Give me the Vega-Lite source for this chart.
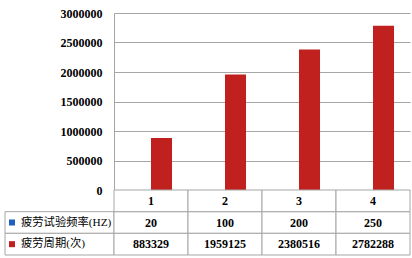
{
  "$schema": "https://vega.github.io/schema/vega-lite/v6.json",
  "padding": {"left": 4, "top": 7, "right": 3, "bottom": 3},
  "config": {"view": {"stroke": null}, "font": "Liberation Serif"},
  "datasets": {
    "bars": [
      {"cat": "1", "series": "疲劳试验频率(HZ)", "value": 20},
      {"cat": "1", "series": "疲劳周期(次)", "value": 883329},
      {"cat": "2", "series": "疲劳试验频率(HZ)", "value": 100},
      {"cat": "2", "series": "疲劳周期(次)", "value": 1959125},
      {"cat": "3", "series": "疲劳试验频率(HZ)", "value": 200},
      {"cat": "3", "series": "疲劳周期(次)", "value": 2380516},
      {"cat": "4", "series": "疲劳试验频率(HZ)", "value": 250},
      {"cat": "4", "series": "疲劳周期(次)", "value": 2782288}
    ],
    "header": [
      {"cat": "1", "series": "#"},
      {"cat": "2", "series": "#"},
      {"cat": "3", "series": "#"},
      {"cat": "4", "series": "#"}
    ],
    "rows": [
      {"series": "疲劳试验频率(HZ)"},
      {"series": "疲劳周期(次)"}
    ]
  },
  "columns": 2,
  "spacing": 0,
  "bounds": "flush",
  "concat": [
    {
      "width": 109,
      "height": 177,
      "data": {"values": [{}]},
      "mark": {"type": "point", "opacity": 0},
      "encoding": {}
    },
    {
      "width": 296,
      "height": 177,
      "data": {"name": "bars"},
      "mark": {"type": "bar"},
      "encoding": {
        "x": {"field": "cat", "type": "nominal", "scale": {"paddingInner": 0.432, "paddingOuter": 0.216}, "axis": null},
        "xOffset": {"field": "series", "type": "nominal", "scale": {"domain": ["疲劳试验频率(HZ)", "疲劳周期(次)"], "paddingInner": 0, "paddingOuter": 0}},
        "y": {
          "field": "value", "type": "quantitative",
          "scale": {"domain": [0, 3000000], "nice": false},
          "axis": {
            "values": [0, 500000, 1000000, 1500000, 2000000, 2500000, 3000000],
            "format": "d", "title": null, "grid": true, "gridColor": "#A6A6A6", "gridOpacity": 1,
            "domainColor": "#A6A6A6", "ticks": false, "tickSize": 0, "labelPadding": 12,
            "labelFont": "Liberation Serif", "labelFontWeight": "bold", "labelFontSize": 12, "labelColor": "#000000"
          }
        },
        "color": {"field": "series", "type": "nominal", "scale": {"domain": ["疲劳试验频率(HZ)", "疲劳周期(次)"], "range": ["#1F5FC0", "#C0201E"]}, "legend": null}
      }
    },
    {
      "width": 109,
      "height": 65,
      "data": {"name": "rows"},
      "encoding": {
        "y": {"field": "series", "type": "nominal", "scale": {"domain": ["#", "疲劳试验频率(HZ)", "疲劳周期(次)"], "paddingInner": 0, "paddingOuter": 0}, "axis": null}
      },
      "layer": [
        {"mark": {"type": "rect", "fill": "#FFFFFF", "stroke": "#A6A6A6", "strokeWidth": 1}},
        {
          "mark": {"type": "point", "shape": "square", "filled": true, "size": 36, "opacity": 1, "xOffset": -47.5},
          "encoding": {"color": {"field": "series", "type": "nominal", "scale": {"domain": ["疲劳试验频率(HZ)", "疲劳周期(次)"], "range": ["#1F5FC0", "#C0201E"]}, "legend": null}}
        },
        {
          "mark": {"type": "text", "align": "left", "dx": -38.5, "fontSize": 11.3, "font": "Liberation Serif, Noto Sans CJK SC", "color": "#000000"},
          "encoding": {"text": {"field": "series", "type": "nominal"}}
        }
      ]
    },
    {
      "width": 296,
      "height": 65,
      "encoding": {
        "x": {"field": "cat", "type": "nominal", "scale": {"paddingInner": 0, "paddingOuter": 0}, "axis": null},
        "y": {"field": "series", "type": "nominal", "scale": {"domain": ["#", "疲劳试验频率(HZ)", "疲劳周期(次)"], "paddingInner": 0, "paddingOuter": 0}, "axis": null}
      },
      "layer": [
        {"data": {"name": "bars"}, "mark": {"type": "rect", "fill": "#FFFFFF", "stroke": "#A6A6A6", "strokeWidth": 1}},
        {"data": {"name": "header"}, "mark": {"type": "rect", "fill": "#FFFFFF", "stroke": "#A6A6A6", "strokeWidth": 1}},
        {
          "data": {"name": "bars"},
          "mark": {"type": "text", "fontWeight": "bold", "fontSize": 12, "font": "Liberation Serif", "color": "#000000"},
          "encoding": {"text": {"field": "value", "type": "quantitative", "format": "d"}}
        },
        {
          "data": {"name": "header"},
          "mark": {"type": "text", "fontWeight": "bold", "fontSize": 12, "font": "Liberation Serif", "color": "#000000"},
          "encoding": {"text": {"field": "cat", "type": "nominal"}}
        }
      ]
    }
  ]
}
